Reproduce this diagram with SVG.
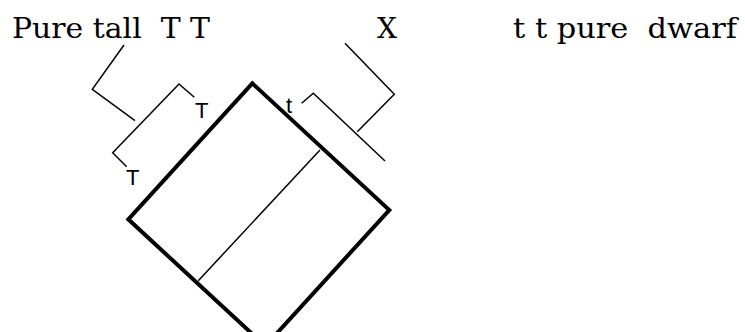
<svg xmlns="http://www.w3.org/2000/svg" width="745" height="332" viewBox="0 0 745 332">
<style>
.t{font-family:"DejaVu Serif","Liberation Serif",serif;font-size:28px;fill:#000;white-space:pre}
.s{font-family:"Liberation Sans",Arial,sans-serif;font-size:22px;fill:#000}
.ln{fill:none;stroke:#000;stroke-width:1.5}
.box{fill:none;stroke:#000;stroke-width:4;stroke-linejoin:miter}
</style>
<rect width="745" height="332" fill="#fff"/>
<g id="label-tall"><text class="t" x="12" y="38" xml:space="preserve" textLength="198" lengthAdjust="spacingAndGlyphs">Pure tall  T T</text></g>
<g id="label-x"><text class="t" x="377" y="38">X</text></g>
<g id="label-dwarf"><text class="t" x="513" y="38" xml:space="preserve" textLength="224" lengthAdjust="spacingAndGlyphs">t t pure  dwarf</text></g>
<g id="square">
<polygon class="box" points="252.3,83.3 389.3,210 265.3,346 128.3,219.3"/>
<line class="ln" x1="320" y1="150" x2="198.3" y2="280.7"/>
</g>
<g id="connectors">
<polyline class="ln" points="124,45 92.3,89.3 135,120.7"/>
<polyline class="ln" points="194.3,97.3 179,84 112.7,152.7 126.7,166.7"/>
<polyline class="ln" points="345,43.3 394.3,94.3 357.3,131.7"/>
<polyline class="ln" points="301.7,103.3 313.3,93.3 385,161"/>
</g>
<g id="allele-labels">
<text class="s" x="195" y="118">T</text>
<text class="s" x="126" y="185">T</text>
<text class="s" x="286" y="113">t</text>
</g>
</svg>
